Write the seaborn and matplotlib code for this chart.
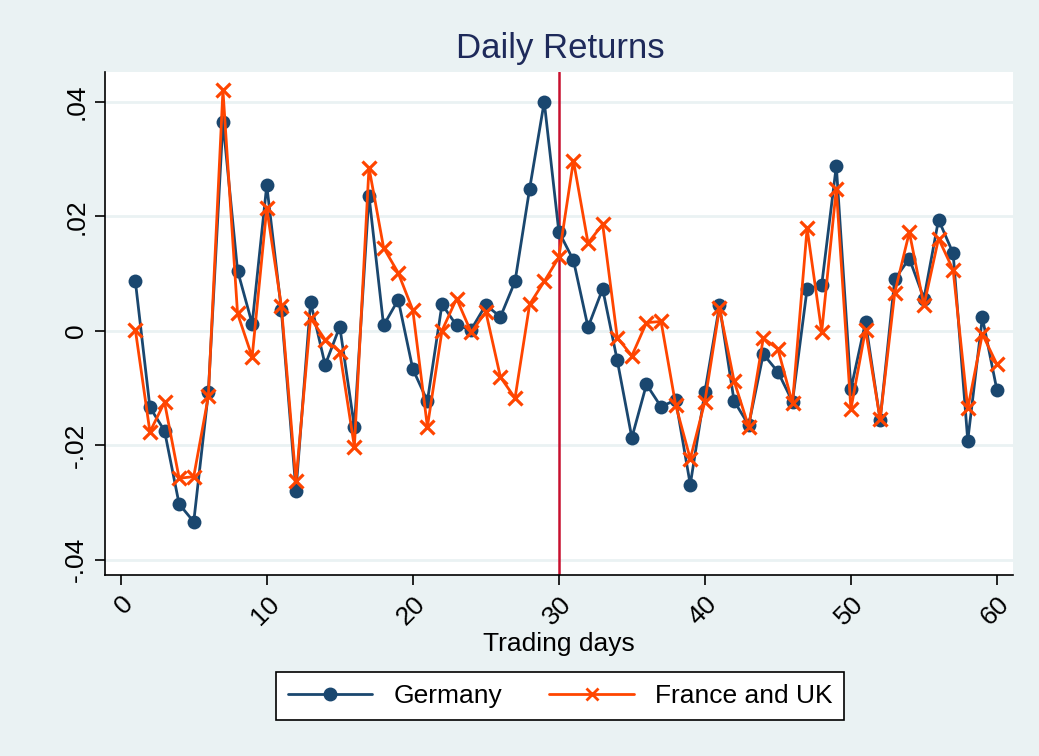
import matplotlib
matplotlib.use("Agg")
import matplotlib.pyplot as plt
from matplotlib.lines import Line2D
import seaborn as sns
import pandas as pd

days = list(range(1, 61))

germany = [
    0.0087, -0.0134, -0.0175, -0.0303, -0.0334, -0.0108, 0.0365, 0.0105, 0.0012, 0.0254,
    0.0036, -0.0280, 0.0050, -0.0060, 0.0007, -0.0168, 0.0236, 0.0009, 0.0054, -0.0067,
    -0.0123, 0.0046, 0.0009, 0.0002, 0.0045, 0.0024, 0.0086, 0.0248, 0.0400, 0.0173,
    0.0123, 0.0006, 0.0073, -0.0052, -0.0187, -0.0094, -0.0133, -0.0121, -0.0269, -0.0107,
    0.0044, -0.0123, -0.0165, -0.0041, -0.0072, -0.0124, 0.0073, 0.0080, 0.0288, -0.0102,
    0.0015, -0.0156, 0.0090, 0.0126, 0.0056, 0.0194, 0.0135, -0.0192, 0.0023, -0.0104,
]

france_uk = [
    0.0002, -0.0177, -0.0125, -0.0258, -0.0255, -0.0115, 0.0420, 0.0030, -0.0046, 0.0214,
    0.0043, -0.0263, 0.0022, -0.0016, -0.0037, -0.0203, 0.0285, 0.0145, 0.0101, 0.0036,
    -0.0168, 0.0000, 0.0056, -0.0003, 0.0033, -0.0081, -0.0118, 0.0046, 0.0086, 0.0128,
    0.0297, 0.0153, 0.0186, -0.0012, -0.0044, 0.0014, 0.0016, -0.0130, -0.0224, -0.0124,
    0.0039, -0.0088, -0.0168, -0.0013, -0.0032, -0.0127, 0.0179, -0.0002, 0.0248, -0.0137,
    0.0002, -0.0155, 0.0066, 0.0172, 0.0044, 0.0161, 0.0106, -0.0136, -0.0006, -0.0059,
]

series_names = ["Germany", "France and UK"]
y_ticks = [-0.04, -0.02, 0, 0.02, 0.04]
y_tick_labels = ["-.04", "-.02", "0", ".02", ".04"]
x_ticks = [0, 10, 20, 30, 40, 50, 60]
event_day = 30

bg = "#EAF2F3"
navy = "#1A476F"
orange = "#FF4500"

sns.set_style("ticks")
plt.rcParams["font.family"] = ["Liberation Sans", "DejaVu Sans"]
plt.rcParams["text.color"] = "black"
plt.rcParams["xtick.labelcolor"] = "black"
plt.rcParams["ytick.labelcolor"] = "black"
plt.rcParams["axes.labelcolor"] = "black"

df = pd.DataFrame({
    "day": days * 2,
    "ret": germany + france_uk,
    "series": [series_names[0]] * len(days) + [series_names[1]] * len(days),
})

fig = plt.figure(figsize=(10.39, 7.56), dpi=100, facecolor=bg)
ax = fig.add_axes([0.101, 0.2394, 0.874, 0.6654])
ax.set_facecolor("white")

ax.axvline(event_day, color="#C8102E", lw=1.8, zorder=1)

sns.lineplot(
    data=df, x="day", y="ret", hue="series", style="series",
    palette={series_names[0]: navy, series_names[1]: orange},
    markers={series_names[0]: "o", series_names[1]: "X"},
    dashes=False, lw=2, markersize=10, markeredgewidth=0,
    ax=ax, zorder=3, legend=False,
)
# France markers as thin crosses, like the Stata x symbol
fr_line = ax.lines[-1]
fr_line.set_marker("x")
fr_line.set_markeredgewidth(2.3)
fr_line.set_markeredgecolor(orange)
fr_line.set_markersize(10)

ax.set_xlim(-1.08, 61.1)
ax.set_ylim(-0.0427, 0.0452)
ax.set_yticks(y_ticks)
ax.set_yticklabels(y_tick_labels, rotation=90, va="center", fontsize=19, color="black")
ax.set_xticks(x_ticks)
ax.set_xticklabels([str(t) for t in x_ticks], rotation=45, ha="right",
                   rotation_mode="anchor", fontsize=19, color="black")
ax.grid(axis="y", color=bg, lw=2)
ax.set_axisbelow(True)
for s in ["top", "right"]:
    ax.spines[s].set_visible(False)
for s in ["left", "bottom"]:
    ax.spines[s].set_color("black")
    ax.spines[s].set_linewidth(1.2)
ax.tick_params(axis="both", length=7, width=1.2, color="black", pad=5)

ax.set_xlabel("Trading days", fontsize=19, labelpad=2, color="black")
ax.set_ylabel("")
fig.text(0.539, 0.9365, "Daily Returns", ha="center", va="center",
         fontsize=25, color="#1E2A5A")

handles = [
    Line2D([], [], color=navy, lw=2, marker="o", markersize=9),
    Line2D([], [], color=orange, lw=2, marker="x", markersize=9, markeredgewidth=2),
]
leg = fig.legend(handles, series_names, loc="center", bbox_to_anchor=(0.539, 0.0794),
                 ncol=2, fontsize=19, frameon=True, fancybox=False, edgecolor="black",
                 facecolor="white", framealpha=1,
                 handlelength=3.2, columnspacing=1.8, borderpad=0.45)
leg.get_frame().set_linewidth(1.2)
for t in leg.get_texts():
    t.set_color("black")

fig.savefig("out.png", dpi=100, facecolor=bg)
